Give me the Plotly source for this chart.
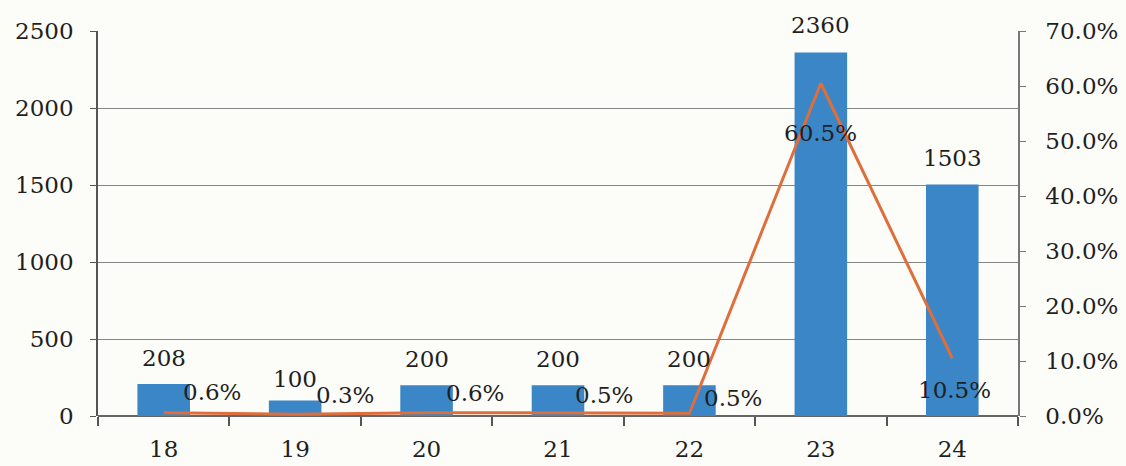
import plotly.graph_objects as go

years = ["18", "19", "20", "21", "22", "23", "24"]
counts = [208, 100, 200, 200, 200, 2360, 1503]
shares = [0.6, 0.3, 0.6, 0.5, 0.5, 60.5, 10.5]  # percent

left_ticks = [0, 500, 1000, 1500, 2000, 2500]
right_ticks = [0, 10, 20, 30, 40, 50, 60, 70]

# label offsets (pixels) for the count and percentage annotations
count_yshift = [26, 22, 26, 26, 26, 28, 27]
share_xshift = [48, 50, 48, 46, 44, 0, 2]
share_yshift = [21, 19, 20, 18, 15, -50, -32]

FONT = "DejaVu Serif, Liberation Serif, serif"
SIZE = 23
BAR = "#3a86c6"
LINE = "#de6f3c"
INK = "#1f1f1f"

fig = go.Figure()

fig.add_trace(go.Bar(
    x=years, y=counts, width=0.4,
    marker=dict(color=BAR, line=dict(width=0)),
    yaxis="y",
))

fig.add_trace(go.Scatter(
    x=years, y=shares, mode="lines",
    line=dict(color=LINE, width=3),
    yaxis="y2", cliponaxis=False,
))

for i, c in enumerate(counts):
    fig.add_annotation(
        x=i, y=c, xref="x", yref="y", text=str(c),
        showarrow=False, yshift=count_yshift[i],
        font=dict(family=FONT, size=SIZE, color=INK),
    )

for i, s in enumerate(shares):
    fig.add_annotation(
        x=i, y=s, xref="x", yref="y2", text=f"{s:.1f}%",
        showarrow=False, xshift=share_xshift[i], yshift=share_yshift[i],
        font=dict(family=FONT, size=SIZE, color=INK),
    )

fig.update_layout(
    width=1126, height=466,
    margin=dict(l=98, r=108, t=31, b=50, autoexpand=False),
    paper_bgcolor="#fcfcf8", plot_bgcolor="#fcfcf8",
    showlegend=False, bargap=0.6,
    font=dict(family=FONT, size=SIZE, color=INK),
    xaxis=dict(
        type="category", range=[-0.5, 6.5], automargin=False,
        showgrid=False, showline=False,
        ticks="outside", tickson="boundaries", ticklen=9,
        tickcolor="#555", tickwidth=1.5,
        tickfont=dict(family=FONT, size=SIZE, color=INK),
        ticklabelstandoff=17,
    ),
    yaxis=dict(
        range=[0, 2500], tickvals=left_ticks, automargin=False,
        showgrid=True, gridcolor="#858585", gridwidth=1.3,
        zeroline=True, zerolinecolor="#666", zerolinewidth=1.6,
        showline=True, linecolor="#555", linewidth=1.5,
        ticks="outside", ticklen=6, tickcolor="#555",
        tickfont=dict(family=FONT, size=SIZE, color=INK),
        ticklabelstandoff=12,
    ),
    yaxis2=dict(
        overlaying="y", side="right", automargin=False,
        range=[0, 70], tickvals=right_ticks,
        ticktext=[f"{v:.1f}%" for v in right_ticks],
        showgrid=False, zeroline=False,
        showline=True, linecolor="#777", linewidth=1.5,
        ticks="outside", ticklen=6, tickcolor="#777",
        tickfont=dict(family=FONT, size=SIZE, color=INK),
        ticklabelstandoff=15,
    ),
)

fig.write_html("out.html")
